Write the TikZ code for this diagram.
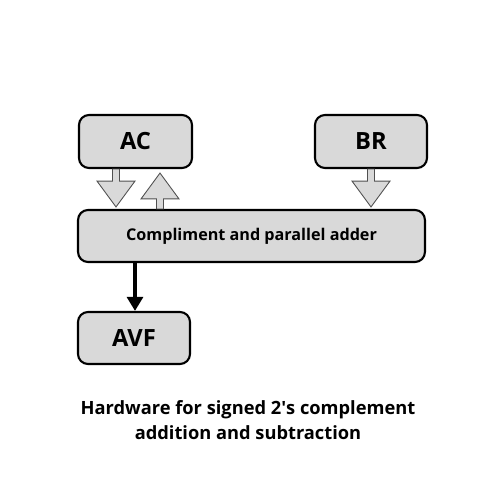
\documentclass[tikz,border=0pt]{standalone}
\usepackage{fontspec}
\setmainfont{Open Sans}
\usetikzlibrary{calc}
\usetikzlibrary{arrows.meta}
\definecolor{box-gray}{RGB}{217, 217, 217}
\definecolor{arrow-edge}{RGB}{80, 80, 80}
\tikzset{
  regbox/.style={draw=black, fill=box-gray, line width=1.2pt, rounded corners=0.2cm, font=\bfseries\fontsize{13.5}{16}\selectfont},
  fatarr/.style={fill=box-gray, draw=arrow-edge, line width=0.5pt, line join=miter}
}
% hollow block arrow from #1 to the tip #2
\newcommand{\fatarrow}[2]{%
  \coordinate (hb) at ($(#2)!14.7pt!(#1)$);
  \filldraw[fatarr] ($(#1)!2pt!90:(#2)$) -- ($(hb)!2pt!90:(#2)$) -- ($(hb)!10.8pt!90:(#2)$) -- (#2)
    -- ($(hb)!10.8pt!-90:(#2)$) -- ($(hb)!2pt!-90:(#2)$) -- ($(#1)!2pt!-90:(#2)$) -- cycle;}
\begin{document}
\begin{tikzpicture}[x=0.02cm, y=-0.02cm]
\useasboundingbox (0,0) rectangle (500,500);
\node[regbox, minimum width=2.26cm, minimum height=1.06cm] (AC) at (135.5,141.5) {AC};
\node[regbox, minimum width=2.24cm, minimum height=1.06cm] (BR) at (371,141.5) {BR};
\node[regbox, minimum width=6.94cm, minimum height=1.04cm, font=\bfseries\fontsize{9.2}{11}\selectfont] (adder) at (251.5,236) {Compliment and parallel adder};
\node[regbox, minimum width=2.24cm, minimum height=1.04cm] (AVF) at (134,338) {AVF};
% block arrows
\coordinate (acin) at ($(AC.south)+(-19.5,0)$);
\coordinate (acout) at ($(AC.south)+(24.5,0)$);
\fatarrow{acin}{$(acin |- adder.north)+(0,-2)$}
\fatarrow{acout |- adder.north}{$(acout)+(0,4)$}
\fatarrow{BR.south}{$(BR.south |- adder.north)+(0,-2)$}
% overflow
\coordinate (avfin) at ($(AVF.north)+(1,0)$);
\draw[line width=2pt, -{Triangle[length=8pt, width=9pt]}] (avfin |- adder.south) -- (avfin);
\node[font=\bfseries\fontsize{10.4}{14.2}\selectfont, align=center] (caption) at (248,420) {Hardware for signed 2\textquotesingle s complement\\addition and subtraction};
\end{tikzpicture}
\end{document}
